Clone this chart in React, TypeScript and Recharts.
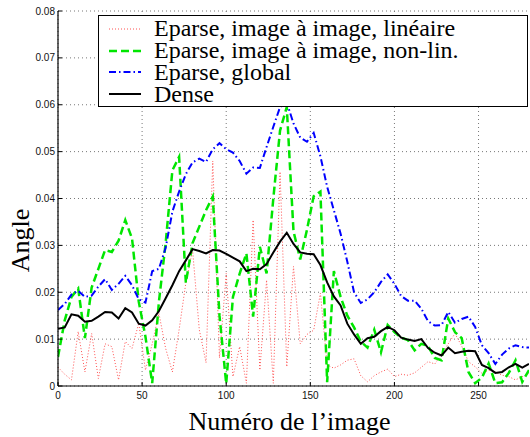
import { LineChart, Line, XAxis, YAxis, CartesianGrid, Legend } from "recharts";

// numéro de l'image (sampled every 4 frames)
const imageIndex = [
  0, 4, 8, 12, 16, 20, 24, 28, 32, 36, 40, 44, 48, 52, 56, 60, 64, 68, 72, 76,
  80, 84, 88, 92, 96, 100, 104, 108, 112, 116, 120, 124, 128, 132, 136, 140,
  144, 148, 152, 156, 160, 164, 168, 172, 176, 180, 184, 188, 192, 196, 200,
  204, 208, 212, 216, 220, 224, 228, 232, 236, 240, 244, 248, 252, 256, 260,
  264, 268, 272, 276, 280,
];

// Eparse, image à image, linéaire
const lineaire = [
  0.004, 0.0025, 0.0013, 0.0116, 0.003, 0.0112, 0.0016, 0.009, 0.0084, 0.0013,
  0.0095, 0.008, 0.0134, 0.0034, 0.009, 0.0155, 0.008, 0.003, 0.012, 0.022,
  0.029, 0.012, 0.005, 0.048, 0.006, 0.024, 0.002, 0.0084, 0.0006, 0.0354,
  0.0034, 0.0226, 0.0006, 0.0457, 0.0041, 0.0255, 0.009, 0.011, 0.0119, 0.0198,
  0.0045, 0.0038, 0.0045, 0.0055, 0.0058, 0.0022, 0.0009, 0.0022, 0.003, 0.0036,
  0.002, 0.0025, 0.0023, 0.0028, 0.004, 0.0052, 0.0047, 0.0068, 0.009, 0.0112,
  0.0085, 0.0052, 0.0041, 0.0027, 0.0034, 0.003, 0.0023, 0.002, 0.0013, 0.002,
  0.0027,
];

// Eparse, image à image, non-lin.
const nonLineaire = [
  0.0062, 0.014, 0.019, 0.0208, 0.0102, 0.021, 0.025, 0.029, 0.0286, 0.031,
  0.0354, 0.0315, 0.018, 0.0105, 0.0006, 0.018, 0.0305, 0.046, 0.0489, 0.022,
  0.0305, 0.034, 0.0375, 0.0404, 0.015, 0.0005, 0.019, 0.024, 0.0283, 0.0148,
  0.0297, 0.024, 0.04, 0.0545, 0.0595, 0.033, 0.027, 0.0333, 0.0405, 0.0415,
  0.0008, 0.0245, 0.019, 0.015, 0.0125, 0.0095, 0.0082, 0.012, 0.0072, 0.013,
  0.0115, 0.0103, 0.0098, 0.0076, 0.009, 0.0085, 0.006, 0.0055, 0.0144, 0.0115,
  0.0102, 0.003, 0.0006, 0.0018, 0.0048, 0.0006, 0.0008, 0.0028, 0.0055, 0.0009,
  0.0034,
];

// Eparse, global
const globalEparse = [
  0.0162, 0.0175, 0.0195, 0.0203, 0.019, 0.0193, 0.0212, 0.0228, 0.0205, 0.0218,
  0.0235, 0.0215, 0.0185, 0.0178, 0.0245, 0.025, 0.0295, 0.0372, 0.0415, 0.0452,
  0.0477, 0.0485, 0.0478, 0.0505, 0.0518, 0.0505, 0.0498, 0.048, 0.0453, 0.0466,
  0.0465, 0.051, 0.0553, 0.0595, 0.0605, 0.056, 0.053, 0.0521, 0.054, 0.049,
  0.0425, 0.0375, 0.0325, 0.0265, 0.02, 0.0177, 0.0185, 0.02, 0.0222, 0.0238,
  0.0218, 0.0192, 0.0182, 0.0182, 0.0165, 0.0138, 0.0129, 0.013, 0.0158, 0.0135,
  0.0143, 0.0148, 0.0126, 0.0087, 0.007, 0.0047, 0.0067, 0.008, 0.0087, 0.0083,
  0.0082,
];

// Dense
const dense = [
  0.0122, 0.0125, 0.0153, 0.015, 0.0137, 0.0139, 0.0148, 0.0158, 0.0157, 0.0144,
  0.0166, 0.0157, 0.0133, 0.0129, 0.014, 0.016, 0.0187, 0.0215, 0.0245, 0.0268,
  0.0292, 0.0288, 0.0283, 0.029, 0.0289, 0.0282, 0.0274, 0.0266, 0.0245, 0.025,
  0.0249, 0.026, 0.0285, 0.0308, 0.0327, 0.0303, 0.0285, 0.0282, 0.0281, 0.0258,
  0.0221, 0.0191, 0.0172, 0.0133, 0.011, 0.009, 0.0102, 0.0105, 0.0117, 0.0126,
  0.0119, 0.0103, 0.0099, 0.0096, 0.01, 0.0081, 0.0071, 0.0065, 0.0082, 0.007,
  0.0073, 0.0075, 0.0074, 0.0045, 0.0038, 0.0028, 0.003, 0.004, 0.0047, 0.0039,
  0.0047,
];

const xTicks = [0, 50, 100, 150, 200, 250];
const yTicks = [0, 0.01, 0.02, 0.03, 0.04, 0.05, 0.06, 0.07, 0.08];

const SERIES = [
  { key: "lineaire", name: "Eparse, image à image, linéaire", color: "#ff5050", width: 1, dash: "1 2" },
  { key: "nonLin", name: "Eparse, image à image, non-lin.", color: "#00e600", width: 2.5, dash: "8 4" },
  { key: "global", name: "Eparse, global", color: "#0000ff", width: 2, dash: "7 3 1.5 3" },
  { key: "dense", name: "Dense", color: "#000000", width: 2, dash: undefined },
];

const rows = imageIndex.map((image, i) => ({
  image,
  lineaire: lineaire[i],
  nonLin: nonLineaire[i],
  global: globalEparse[i],
  dense: dense[i],
}));

const TICK_GAP = 9;
const tickFont = "'Liberation Sans', Arial, sans-serif";
const serif = "'Liberation Serif', 'Times New Roman', serif";

function XTick({ x, y, payload }: any) {
  return (
    <g>
      <line x1={x} x2={x} y1={y - TICK_GAP} y2={y - TICK_GAP - 4} stroke="#000" />
      <text x={x} y={y} dy={4} textAnchor="middle" fontSize={10} fontFamily={tickFont} fill="#111">
        {payload.value}
      </text>
    </g>
  );
}

function YTick({ x, y, payload }: any) {
  const v = payload.value;
  return (
    <g>
      <line x1={x + 3} x2={x + 7} y1={y} y2={y} stroke="#000" />
      <text x={x} y={y} dy={3.5} textAnchor="end" fontSize={10} fontFamily={tickFont} fill="#111">
        {v === 0 ? "0" : v.toFixed(2)}
      </text>
    </g>
  );
}

function LegendBox() {
  return (
    <div
      style={{
        width: 428,
        height: 88,
        border: "1.5px solid #000",
        background: "#fff",
        paddingTop: 2,
        boxSizing: "content-box",
      }}
    >
      {SERIES.map((s) => (
        <div key={s.key} style={{ height: 21.8, display: "flex", alignItems: "center" }}>
          <svg width={55} height={12} style={{ flex: "none" }}>
            <line
              x1={10}
              x2={42}
              y1={6}
              y2={6}
              stroke={s.color}
              strokeWidth={s.width}
              strokeDasharray={s.dash}
            />
          </svg>
          <span
            style={{
              fontFamily: serif,
              fontSize: 24,
              lineHeight: "21px",
              color: "#000",
              whiteSpace: "nowrap",
            }}
          >
            {s.name}
          </span>
        </div>
      ))}
    </div>
  );
}

function XTitle({ viewBox }: any) {
  const { x, y, width, height } = viewBox;
  return (
    <text x={x + width / 2 - 4} y={y + height - 7} textAnchor="middle" fontSize={26} fontFamily={serif} fill="#000">
      Numéro de l’image
    </text>
  );
}

function YTitle({ viewBox }: any) {
  const { y, height } = viewBox;
  const cy = y + height / 2 + 42;
  return (
    <text
      x={29}
      y={cy}
      transform={`rotate(-90, 29, ${cy})`}
      textAnchor="middle"
      fontSize={26}
      fontFamily={serif}
      fill="#000"
    >
      Angle
    </text>
  );
}

export default function App() {
  return (
    <div style={{ position: "absolute", left: 0, top: 0, width: 530, height: 437, background: "#fff" }}>
      <LineChart width={530} height={437} data={rows} margin={{ top: 11, right: 1, bottom: 0, left: 0 }}>
        <CartesianGrid stroke="#777" strokeDasharray="1 3" verticalValues={xTicks} horizontalValues={yTicks} />
        <XAxis
          dataKey="image"
          type="number"
          domain={[0, 280]}
          ticks={xTicks}
          height={51}
          axisLine={{ stroke: "#000", strokeWidth: 1.2 }}
          tickLine={false}
          tickSize={0}
          tickMargin={TICK_GAP}
          tick={<XTick />}
          label={{ content: XTitle }}
          allowDataOverflow
        />
        <YAxis
          type="number"
          domain={[0, 0.08]}
          ticks={yTicks}
          width={58}
          axisLine={{ stroke: "#000", strokeWidth: 1.2 }}
          tickLine={false}
          tickSize={0}
          tickMargin={3}
          tick={<YTick />}
          label={{ content: YTitle }}
          allowDataOverflow
        />
        {SERIES.map((s) => (
          <Line
            key={s.key}
            type="linear"
            dataKey={s.key}
            name={s.name}
            stroke={s.color}
            strokeWidth={s.width}
            strokeDasharray={s.dash}
            dot={false}
            activeDot={false}
            isAnimationActive={false}
          />
        ))}
        <Legend
          content={<LegendBox />}
          layout="horizontal"
          verticalAlign="middle"
          align="center"
          wrapperStyle={{ position: "absolute", left: 98, top: 15, width: "auto", height: "auto" }}
        />
      </LineChart>
    </div>
  );
}
